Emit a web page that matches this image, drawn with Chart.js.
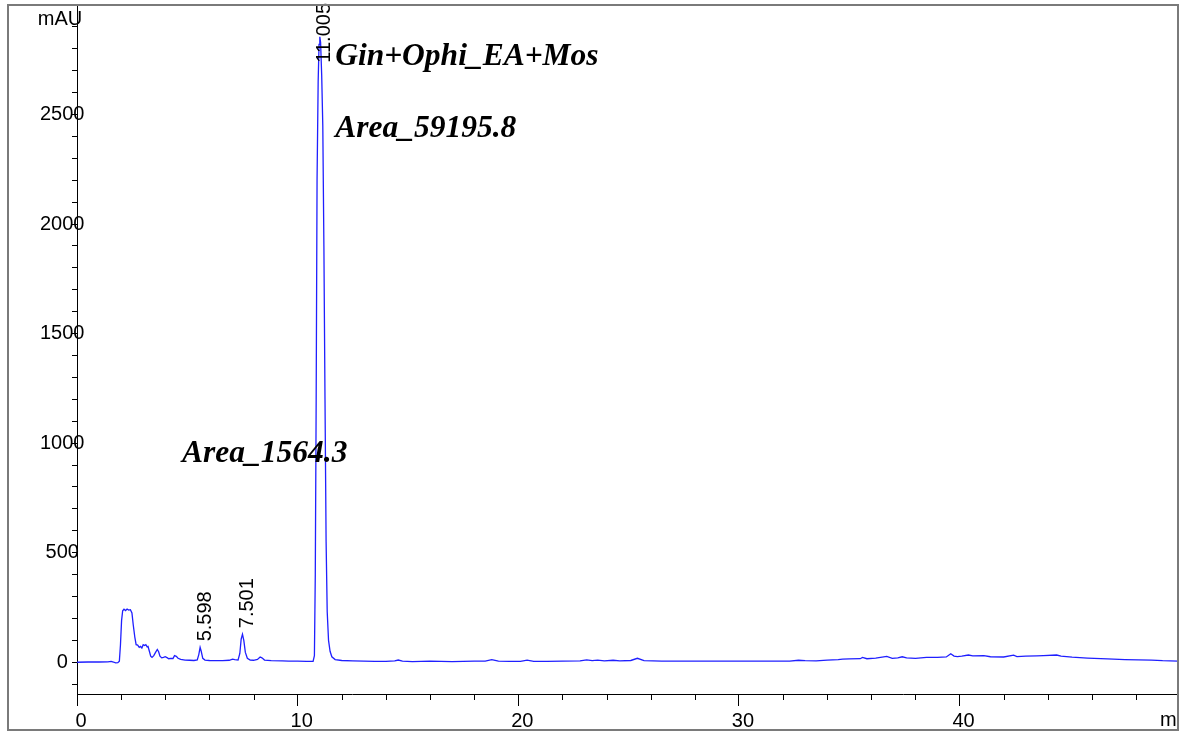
<!DOCTYPE html>
<html>
<head>
<meta charset="utf-8">
<script src="https://cdn.jsdelivr.net/npm/chart.js@4.4.1/dist/chart.umd.min.js"></script>
<style>
	html, body { margin: 0; padding: 0; background: #fff; }
	#wrap { width: 1183px; height: 733px; }
</style>
</head>
<body>
<div id="wrap"><canvas id="myChart" width="1183" height="733"></canvas></div>
<script>
// retention time (min) and signal (mAU)
var time = [0, 0.5, 1.0, 1.4, 1.55, 1.65, 1.75, 1.85, 1.92, 1.97, 2.02, 2.07, 2.13, 2.2, 2.27, 2.34, 2.42, 2.49, 2.55, 2.62, 2.68, 2.75, 2.82, 2.88, 2.94, 3.0, 3.06, 3.12, 3.18, 3.22, 3.28, 3.34, 3.4, 3.48, 3.56, 3.64, 3.7, 3.76, 3.84, 3.92, 4.0, 4.08, 4.16, 4.25, 4.35, 4.42, 4.5, 4.58, 4.7, 4.9, 5.1, 5.3, 5.45, 5.52, 5.58, 5.63, 5.7, 5.8, 6.0, 6.3, 6.6, 6.9, 7.05, 7.15, 7.3, 7.38, 7.44, 7.5, 7.56, 7.63, 7.72, 7.85, 8.0, 8.18, 8.3, 8.38, 8.5, 8.8, 9.3, 9.6, 10.0, 10.4, 10.7, 10.76, 10.8, 10.84, 10.88, 10.93, 10.97, 11.005, 11.04, 11.09, 11.14, 11.19, 11.24, 11.29, 11.34, 11.4, 11.47, 11.55, 11.7, 12.0, 12.5, 13.0, 13.5, 14.0, 14.4, 14.56, 14.75, 15.2, 15.6, 16.0, 16.5, 17.0, 17.5, 18.0, 18.5, 18.8, 19.1, 19.6, 20.1, 20.4, 20.7, 21.3, 22.0, 22.8, 23.1, 23.35, 23.6, 23.9, 24.3, 24.6, 25.1, 25.4, 25.7, 26.5, 27.5, 28.5, 29.5, 31.0, 32.3, 32.7, 33.0, 33.5, 34.0, 34.5, 34.7, 35.0, 35.5, 35.6, 35.8, 36.2, 36.7, 36.95, 37.2, 37.4, 37.6, 38.0, 38.5, 39.0, 39.4, 39.6, 39.75, 39.9, 40.1, 40.4, 40.6, 41.1, 41.4, 42.0, 42.45, 42.6, 43.0, 43.5, 43.8, 44.4, 44.6, 45.1, 45.8, 46.7, 47.5, 48.7, 49.2, 49.9]
var mau = [0, 1, 1, 2, 4, 1, -3, -2, 5, 80, 190, 235, 242, 236, 243, 238, 240, 225, 170, 115, 80, 78, 68, 72, 65, 80, 76, 80, 70, 72, 50, 28, 22, 30, 45, 58, 48, 28, 20, 22, 25, 21, 16, 18, 17, 30, 27, 18, 13, 10, 9, 8, 11, 35, 68, 50, 18, 10, 8, 7, 7, 9, 14, 12, 10, 40, 105, 128, 100, 45, 18, 10, 9, 13, 24, 20, 10, 7, 6, 5, 5, 4, 4, 30, 400, 1200, 2200, 2650, 2820, 2855, 2830, 2680, 2450, 1900, 1200, 550, 230, 100, 50, 25, 12, 8, 6, 5, 4, 4, 6, 10, 5, 3, 4, 5, 4, 3, 4, 5, 5, 12, 5, 4, 4, 10, 4, 4, 5, 6, 11, 7, 10, 6, 9, 6, 8, 18, 7, 5, 5, 5, 5, 5, 5, 9, 7, 6, 10, 12, 14, 15, 16, 22, 16, 19, 27, 18, 20, 25, 20, 18, 22, 22, 24, 39, 28, 26, 28, 33, 29, 30, 25, 24, 32, 26, 28, 29, 30, 33, 28, 23, 19, 15, 12, 10, 7, 5]

var peakTimes = [5.598, 7.501, 11.005]
var peakLabels = ["5.598", "7.501", "11.005"]

var noteTexts = ["Gin+Ophi_EA+Mos", "Area_59195.8", "Area_1564.3"]
var noteX = [11.7, 11.7, 4.76]
var noteY = [2725, 2396, 914]

var xTickLabels = [0, 10, 20, 30, 40]
var yTickLabels = [0, 500, 1000, 1500, 2000, 2500]

var points = []
for (var i = 0; i < time.length; i++) {
	points.push({x: time[i], y: mau[i]})
}

Chart.defaults.font.family = "'Liberation Sans', Arial, sans-serif"
Chart.defaults.font.size = 20
Chart.defaults.color = "#000"

var extras = {
	id: 'extras',
	afterDraw: function(chart) {
		var ctx = chart.ctx
		var xs = chart.scales.x
		var ys = chart.scales.y
		var area = chart.chartArea
		ctx.save()

		// minor x ticks
		ctx.strokeStyle = "#000"
		ctx.lineWidth = 1
		xs.ticks.forEach(function(t) {
			if (xTickLabels.indexOf(t.value) >= 0) return
			var px = Math.round(xs.getPixelForValue(t.value)) + 0.5
			ctx.beginPath()
			ctx.moveTo(px, area.bottom)
			ctx.lineTo(px, area.bottom + 6)
			ctx.stroke()
		})

		// retention time labels above peaks
		ctx.font = "20px 'Liberation Sans', Arial, sans-serif"
		ctx.fillStyle = "#000"
		ctx.textAlign = "left"
		ctx.textBaseline = "middle"
		peakTimes.forEach(function(pt, k) {
			var top = -Infinity
			for (var i = 0; i < time.length; i++) {
				if (Math.abs(time[i] - pt) < 0.12 && mau[i] > top) top = mau[i]
			}
			var w = ctx.measureText(peakLabels[k]).width
			var bottom = ys.getPixelForValue(top) - 6
			if (bottom - w < 3) bottom = 3 + w
			ctx.save()
			ctx.translate(xs.getPixelForValue(pt) + 5, bottom)
			ctx.rotate(-Math.PI / 2)
			ctx.fillText(peakLabels[k], 0, 0)
			ctx.restore()
		})

		// notes
		ctx.font = "italic bold 31.5px 'Liberation Serif', 'Times New Roman', serif"
		ctx.textBaseline = "alphabetic"
		noteTexts.forEach(function(txt, k) {
			ctx.fillText(txt, xs.getPixelForValue(noteX[k]), ys.getPixelForValue(noteY[k]))
		})

		// axis units
		ctx.font = "20px 'Liberation Sans', Arial, sans-serif"
		ctx.textAlign = "center"
		ctx.fillText("mAU", 60, 25)
		ctx.beginPath()
		ctx.rect(0, 0, 1177, 733)
		ctx.clip()
		ctx.textAlign = "left"
		ctx.fillText("min", 1160, 726)
		ctx.restore()

		// frame
		ctx.save()
		ctx.strokeStyle = "#7a7a7a"
		ctx.lineWidth = 2
		ctx.strokeRect(8, 5, 1170, 725)
		ctx.restore()
	}
}

var myChart = document.getElementById("myChart").getContext('2d')
var chart = new Chart(myChart, {
	type: 'line',
	data: {
		datasets: [{
			data: points,
			borderColor: "#1f1fff",
			borderWidth: 1.3,
			pointRadius: 0,
			tension: 0,
			fill: false
		}]
	},
	options: {
		responsive: false,
		animation: false,
		events: [],
		layout: { padding: { left: 37, right: 5, top: 5, bottom: 0 } },
		plugins: { legend: { display: false }, tooltip: { enabled: false } },
		scales: {
			x: {
				type: 'linear',
				min: 0,
				max: 49.9,
				afterFit: function(s) { s.height = 39 },
				border: { color: "#000", width: 1 },
				grid: {
					drawOnChartArea: false,
					tickLength: 12,
					tickColor: function(c) {
						return xTickLabels.indexOf(c.tick.value) >= 0 ? "#000" : "rgba(0,0,0,0)"
					}
				},
				ticks: {
					stepSize: 2,
					includeBounds: false,
					autoSkip: false,
					maxRotation: 0,
					padding: 3,
					labelOffset: 4,
					callback: function(v) { return xTickLabels.indexOf(v) >= 0 ? String(v) : '' }
				}
			},
			y: {
				min: -145,
				max: 3000,
				afterFit: function(s) { s.width = 40 },
				border: { color: "#000", width: 1 },
				grid: { drawOnChartArea: false, tickLength: 5, tickColor: "#000" },
				ticks: {
					stepSize: 100,
					includeBounds: false,
					autoSkip: false,
					mirror: true,
					crossAlign: 'center',
					padding: -37,
					callback: function(v) { return yTickLabels.indexOf(v) >= 0 ? String(v) : '' }
				}
			}
		}
	},
	plugins: [extras]
})
</script>
</body>
</html>
